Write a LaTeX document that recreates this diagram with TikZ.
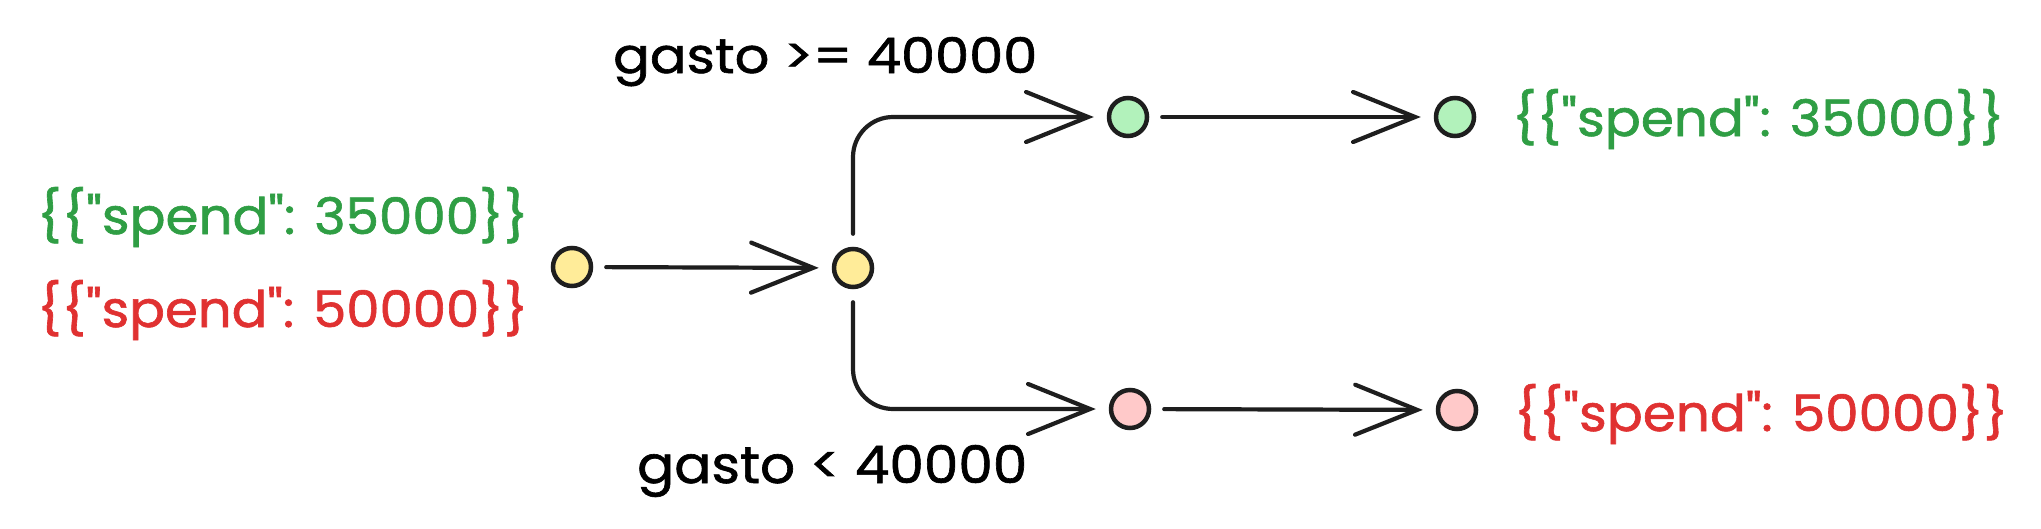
\documentclass[tikz,border=0pt]{standalone}
\usepackage{fontspec}
\setmainfont{Poppins}[Ligatures=TeXOff, FakeBold=1.2]
\usepackage{graphicx}
\usetikzlibrary{arrows.meta}
\definecolor{ink}{HTML}{1E1E1E}
\definecolor{tgreen}{HTML}{2F9E44}
\definecolor{tred}{HTML}{E03131}
\definecolor{yel}{HTML}{FFEC99}
\definecolor{grn}{HTML}{B2F2BB}
\definecolor{pnk}{HTML}{FFC9C9}
\begin{document}
\begin{tikzpicture}[x=1pt,y=-1pt,
  dot/.style={circle, draw=ink, line width=4.5pt, minimum size=38pt, inner sep=0pt},
  conn/.style={draw=ink, line width=4.2pt, line cap=round, line join=round,
    -{Straight Barb[length=62pt,width=50pt,line cap=round]},
    shorten <=13pt, shorten >=13pt},
  lbl/.style={inner sep=0pt, anchor=base west}]
\fill[white] (0,0) rectangle (2041,528);
\useasboundingbox (0,0) rectangle (2041,528);

\node[dot, fill=yel] (y1) at (572,267) {};
\node[dot, fill=yel] (y2) at (853,268) {};
\node[dot, fill=grn] (g1) at (1128,117) {};
\node[dot, fill=grn] (g2) at (1455,117) {};
\node[dot, fill=pnk] (p1) at (1130,409) {};
\node[dot, fill=pnk] (p2) at (1457,410) {};

\draw[conn] (y1) -- (y2);
\draw[conn, rounded corners=40pt] (y2) |- (g1);
\draw[conn] (g1) -- (g2);
\draw[conn, rounded corners=40pt] (y2) |- (p1);
\draw[conn] (p1) -- (p2);

\node[lbl] (gt) at (613,73) {\resizebox{424pt}{36pt}{gasto >= 40000}};
\node[lbl] (lt) at (637,483) {\resizebox{390pt}{38pt}{gasto < 40000}};
\node[lbl, text=tgreen] (l1) at (37,234) {\resizebox{491pt}{47pt}{\{\{"spend": 35000\}\}}};
\node[lbl, text=tred] (l2) at (37,327) {\resizebox{491pt}{47pt}{\{\{"spend": 50000\}\}}};
\node[lbl, text=tgreen] (r1) at (1512,136) {\resizebox{492pt}{47pt}{\{\{"spend": 35000\}\}}};
\node[lbl, text=tred] (r2) at (1514,431) {\resizebox{494pt}{47pt}{\{\{"spend": 50000\}\}}};
\end{tikzpicture}
\end{document}
